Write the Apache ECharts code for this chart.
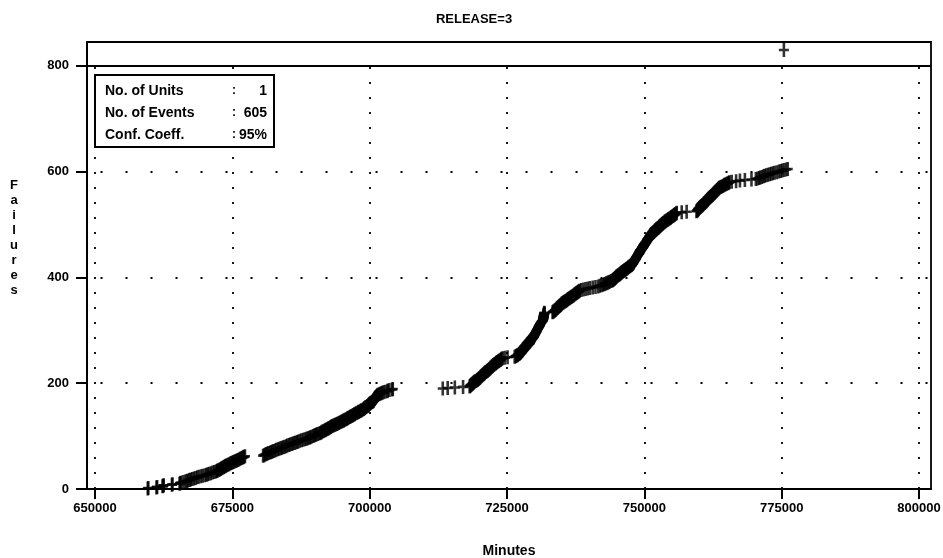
<!DOCTYPE html>
<html><head><meta charset="utf-8">
<script src="https://cdn.jsdelivr.net/npm/echarts@6/dist/echarts.min.js"></script>
<style>html,body{margin:0;padding:0;background:#fff}#c{width:943px;height:558px}</style>
</head><body><div id="c"></div>
<script>
// ---- tick labels ----
const xTicks = [650000, 675000, 700000, 725000, 750000, 775000, 800000];
const yTicks = [0, 200, 400, 600, 800];
const hGridValues = [200, 400, 600];
const topLineValue = 800;

// ---- event times (minutes); cumulative failure = event number ----
const eventMinutesSeg1 = [
 659600,659700,661200,661300,662300,662400,662500,664000,664100,665400,665500,665600,
 666000,666400,666700,666900,667200,667400,667700,668000,
 668300,668600,668900,669300,669600,670000,
 670300,670500,670800,671100,671400,671700,672000,
 672200,672300,672500,672700,672900,673000,673200,673400,673500,673700,673800,674000,
 674200,674400,674600,674800,675000,675200,675400,675600,675800,676000,
 676200,676400,676600,676800,677000,677100,677300,
 680600,680800,681000,681200,681400,681600,681900,682100,682300,682500,682800,683000,
 683300,683500,683800,684000,684300,684500,684800,685000,
 685300,685500,685800,686000,686300,686500,686800,687000,
 687300,687600,687900,688200,688500,688700,689000,
 689200,689400,689700,689900,690100,690300,690500,690800,691000,
 691200,691300,691500,691700,691900,692000,692200,692400,692500,692700,692900,693000,
 693200,693400,693600,693800,694000,694200,694400,694600,694800,695000,
 695200,695300,695500,695700,695900,696000,696200,696400,696500,696700,696900,697000,
 697200,697300,697500,697700,697900,698000,698200,698400,698500,698700,698900,699000,
 699100,699200,699300,699500,699600,699700,699800,699900,700000,700100,700200,700400,700500,
 700600,700700,700700,700800,700900,700900,701000,701100,701100,701200,701300,701400,701500,
 701700,701900,702100,702300,702500,
 702800,703200,703300,703600,704100,704200
];
const eventMinutesSeg2 = [
 713300,714200,715500,717000,718200,
 718300,718400,718500,718600,718700,718800,718900,719000,719100,719300,719500,
 719600,719700,719800,719900,720000,720100,720200,720300,720400,720500,720600,720700,720800,720900,721000,721100,721300,
 721400,721500,721600,721700,721800,721900,722000,722100,722200,722300,722400,722500,722600,722700,722900,723000,
 723100,723200,723400,723500,723600,723800,723900,724000,724200,
 724600,725100,726400,
 726600,726700,726900,727000,727200,727300,
 727400,727450,727550,727600,727700,727800,727850,727950,728000,728100,728200,728250,728350,728400,728500,
 728600,728650,728750,728800,728900,729000,729050,729150,729200,729300,729400,729450,729550,729700,
 729750,729800,729850,729900,729950,730000,730050,730100,730150,730200,730250,730300,730350,730400,730450,
 730500,730550,730600,730650,730700,730750,730800,730850,730900,730950,731000,731050,731100,731200,731250,731300,731400,731500,
 731550,731550,731600,731600,731600,731650,731650,731650,731700,731700,731700,731750,731750,731800,731800,
 733300,733400,733500,733650,733750,733850,733950,734050,734150,734250,734350,734450,734550,734650,734750,
 734850,734950,735050,735200,735300,735450,735600,735750,735900,
 736000,736150,736300,736400,736550,736700,736800,736950,737100,737200,737350,737450,737600,737700,737850,737950,738100,738200,
 738500,738900,739300,739700,740100,
 740600,741100,741600,741900,742200,
 742450,742700,742900,743100,743300,743500,743700,743950,744200,
 744300,744400,744500,744600,744700,744800,744900,745000,745100,745250,745400,745500,
 745600,745700,745850,745950,746100,746200,746350,746450,746600,746700,746850,746950,747100,747200,747350,747450,747600,747700,747800,747900,
 747950,748000,748050,748100,748150,748200,748300,748350,748400,748450,748500,748550,748600,748650,748700,
 748800,748850,748900,748950,749000,749050,749100,749150,749200,749300,749350,749400,749500,749600,749700,
 749750,749800,749850,749900,749950,750000,750100,750150,750200,750250,750300,750400,750450,750500,
 750550,750600,750700,750750,750800,750900,750950,751000,751100,751150,751200,751300,751400,751500,
 751600,751700,751800,751900,752000,752100,752200,752300,752400,752550,752650,752750,
 752850,752950,753050,753150,753250,753350,753450,753600,753700,753850,753950,754100,
 754250,754350,754500,754650,754800,754900,755050,755200,755300,755450,755550,755650,755800,755900,
 756800,757700,759500,
 759600,759650,759750,759800,759900,760000,760100,
 760200,760300,760400,760500,760600,760700,760800,760900,761000,761100,761200,761250,761350,761450,761550,761600,761700,761800,761900,
 762000,762100,762200,762300,762400,762500,762600,762700,762800,762850,762950,763050,763150,763250,763350,763450,763550,763600,763700,
 763900,764100,764300,764500,764600,764800,765000,765200,765350,765500,
 765900,766700,767400,768300,769500,770300,
 770600,770900,771100,771400,771700,771900,772200,772500,772800,
 773100,773400,773700,774100,774500,
 774800,775100,775400,775800,776100
];
const overflowPoint = [775400, 830];

const infoLabels = ['No. of Units', 'No. of Events', 'Conf. Coeff.'];
const infoValues = ['1', '605', '95%'];

// ---- build ----
const FONT = "'Liberation Sans','Arial',sans-serif";
const events = eventMinutesSeg1.concat(eventMinutesSeg2);
const points = events.map((m, i) => [m, i + 1]);
const xMin = 648540, xMax = 802180, yMax = 845;
const PLUS = 'path://M3.7,0H6.3V5.7H10V8.3H6.3V14H3.7V8.3H0V5.7H3.7Z';

const dotV = { color: '#000', width: 1.8, type: [2, 13] };
const dotH = { color: '#000', width: 1.8, type: [2, 23] };
const markData = [];
xTicks.forEach(v => markData.push([{ coord: [v, 0], lineStyle: dotV }, { coord: [v, topLineValue] }]));
hGridValues.forEach(v => markData.push([{ coord: [651000, v], lineStyle: dotH }, { coord: [xMax, v] }]));
markData.push([{ coord: [xMin, topLineValue], lineStyle: { color: '#000', width: 1.8, type: 'solid' } }, { coord: [xMax, topLineValue] }]);

const info = [];
infoLabels.forEach((t, i) => {
  const y = 91 + i * 22;
  info.push({ type: 'text', x: 105, y: y, style: { text: t, font: "bold 14px " + FONT, fill: '#000', textVerticalAlign: 'middle' } });
  info.push({ type: 'text', x: 232, y: y, style: { text: ':', font: "bold 12px " + FONT, fill: '#000', textVerticalAlign: 'middle' } });
  info.push({ type: 'text', x: 267, y: y, style: { text: infoValues[i], font: "bold 14px " + FONT, fill: '#000', textAlign: 'right', textVerticalAlign: 'middle' } });
});

const chart = echarts.init(document.getElementById('c'), null, { renderer: 'canvas' });
chart.setOption({
  animation: false,
  backgroundColor: '#fff',
  grid: { left: 87, right: 12, top: 42, bottom: 69, containLabel: false, outerBoundsMode: 'none',
          show: true, borderColor: '#000', borderWidth: 1.8, backgroundColor: 'transparent' },
  xAxis: {
    type: 'value', min: xMin, max: xMax,
    name: 'Minutes', nameLocation: 'middle', nameGap: 55,
    nameTextStyle: { fontFamily: FONT, fontWeight: 'bold', fontSize: 14, color: '#000' },
    axisLine: { onZero: false, lineStyle: { color: '#000', width: 2 } },
    axisTick: { customValues: xTicks, length: 10, lineStyle: { color: '#000', width: 2 } },
    axisLabel: { customValues: xTicks, margin: 13, fontFamily: FONT, fontWeight: 'bold', fontSize: 13, color: '#000', formatter: v => String(v) },
    splitLine: { show: false }
  },
  yAxis: {
    type: 'value', min: 0, max: yMax,
    axisLine: { onZero: false, lineStyle: { color: '#000', width: 2 } },
    axisTick: { customValues: yTicks, length: 11, lineStyle: { color: '#000', width: 2 } },
    axisLabel: { customValues: yTicks, margin: 18, fontFamily: FONT, fontWeight: 'bold', fontSize: 13, color: '#000', formatter: v => String(v) },
    splitLine: { show: false }
  },
  graphic: [
    { type: 'text', x: 474, y: 19, style: { text: 'RELEASE=3', font: "bold 13px " + FONT, fill: '#000', textAlign: 'center', textVerticalAlign: 'middle' } },
    { type: 'text', x: 14, y: 178, style: { text: 'F\na\ni\nl\nu\nr\ne\ns', font: "bold 13px " + FONT, lineHeight: 15, fill: '#000', textAlign: 'center' } },
    { type: 'rect', shape: { x: 95, y: 75, width: 179, height: 72 }, style: { fill: '#fff', stroke: '#000', lineWidth: 2 }, z: 10 },
    ...info.map(o => Object.assign(o, { z: 11 }))
  ],
  series: [
    {
      type: 'scatter', data: points, symbol: PLUS, symbolSize: [10, 14],
      itemStyle: { color: '#000' }, z: 5,
      markLine: { silent: true, symbol: 'none', label: { show: false }, data: markData, z: 1 }
    },
    {
      type: 'scatter', data: [overflowPoint], symbol: PLUS, symbolSize: [10, 14],
      itemStyle: { color: '#000' }, z: 5
    }
  ]
});
</script></body></html>
